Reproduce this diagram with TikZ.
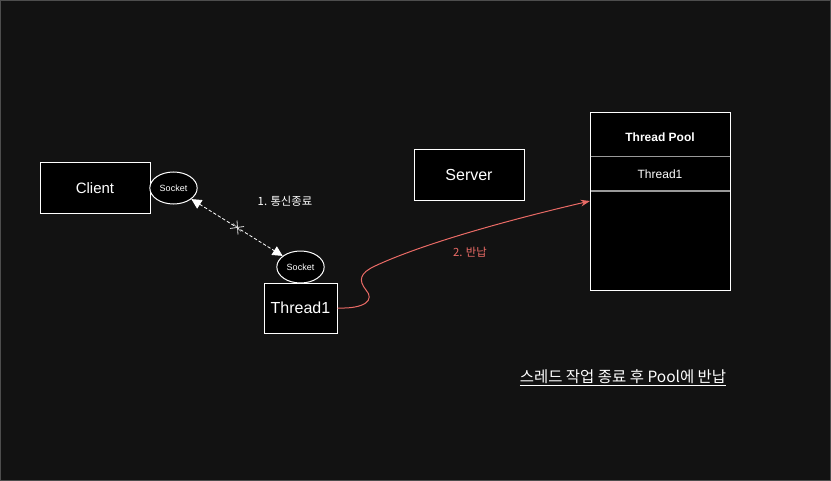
\documentclass[tikz,border=0pt]{standalone}
\usepackage{fontspec}
\setmainfont{Liberation Sans}
\newfontfamily\kr{Noto Sans CJK KR}
\usetikzlibrary{arrows.meta,shapes.geometric}
\definecolor{bgc}{HTML}{121212}
\definecolor{redc}{HTML}{EA6B66}
\definecolor{sepc}{HTML}{999999}
\begin{document}
\begin{tikzpicture}[x=0.75pt,y=-0.75pt,
  box/.style={draw=white,fill=black,text=white,line width=0.75pt,inner sep=0pt},
  sock/.style={draw=white,fill=black,text=white,ellipse,line width=0.75pt,minimum width=35.5pt,minimum height=24pt,inner sep=0pt,font=\fontsize{6.75}{8}\selectfont}]
\useasboundingbox (0,0) rectangle (831,481);
\fill[bgc] (0,0) rectangle (831,481);
\draw[white!25!bgc,line width=0.75pt] (0.5,0.5) rectangle (830.5,480.5);

% Client
\node[box,minimum width=82.5pt,minimum height=37.5pt,font=\fontsize{11.25}{13}\selectfont] (client) at (95,188) {Client};
\node[sock] (s1) at (173.5,188) {Socket};
% Thread1
\node[box,minimum width=54.75pt,minimum height=37.5pt,font=\fontsize{12}{14}\selectfont] (t1) at (300.5,308) {Thread1};
\node[sock] (s2) at (300.5,267) {Socket};
% Server
\node[box,minimum width=82.5pt,minimum height=37.5pt,font=\fontsize{12}{14}\selectfont] (server) at (469,175) {Server};
% Thread Pool
\node[box,minimum width=105pt,minimum height=132.75pt] (pool) at (660,201.5) {};
\draw[sepc,line width=0.75pt] (590.5,157) -- (729.5,157);
\draw[sepc,line width=1.2pt] (590.5,191) -- (729.5,191);
\node[text=white,font=\bfseries\fontsize{9}{11}\selectfont] (ptitle) at (660,137) {Thread Pool};
\node[text=white,font=\fontsize{9}{11}\selectfont] (pt1) at (660,174.5) {Thread1};
\coordinate (pin) at (590,201);

% arrow 1
\draw[white,dash pattern=on 2.5pt off 1.5pt,line width=0.6pt,{Triangle[width=7.5pt,length=7.5pt]}-{Triangle[width=7.5pt,length=7.5pt]}] (s1) -- (s2) coordinate[pos=0.5] (mid);
\draw[white!85!black,line width=0.6pt] ([shift={(0,-7)}]mid) -- ([shift={(1,7)}]mid);
\draw[white!85!black,line width=0.6pt] ([shift={(-7,1)}]mid) -- ([shift={(7,-1)}]mid);
\draw[white!85!black,line width=0.5pt] ([shift={(-4,-4)}]mid) -- ([shift={(4,4)}]mid);
\node[text=white,font=\kr\fontsize{8.5}{10}\selectfont] (l1) at (285,201) {1. 통신종료};

% arrow 2
\draw[redc,line width=0.75pt,-{Stealth[length=7pt,width=5pt]}] (t1.east) .. controls (365,309) and (375,300) .. (366,290) .. controls (358,280) and (360,273) .. (375,266) .. controls (420,245) and (500,222) .. (pin);
\node[text=redc,font=\kr\fontsize{8.5}{10}\selectfont] (l2) at (470,252) {2. 반납};

% bottom note
\node[text=white,font=\kr\fontsize{11.6}{13}\selectfont,inner sep=1pt] (note) at (623,378) {\underline{스레드 작업 종료 후 Pool에 반납}};
\end{tikzpicture}
\end{document}
